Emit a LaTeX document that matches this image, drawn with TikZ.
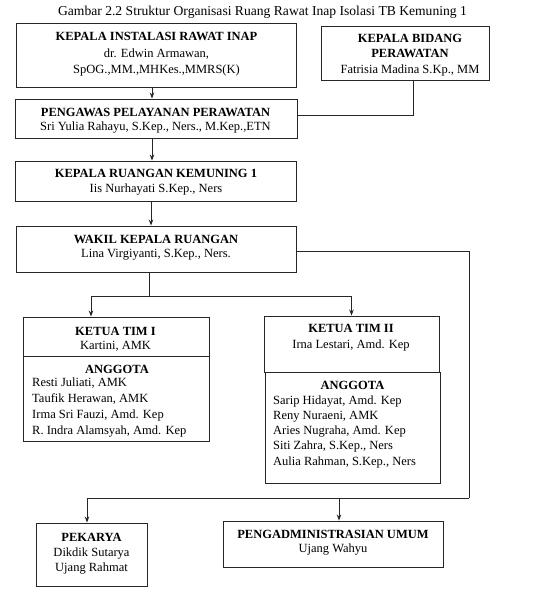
\documentclass[tikz,border=0pt]{standalone}
\usepackage{fontspec}
\setmainfont{Liberation Serif}
\usetikzlibrary{arrows.meta}
\tikzset{
  box/.style={draw=black!85, line width=0.9pt, inner sep=0pt},
  conn/.style={draw=black!85, line width=0.9pt},
  arr/.style={conn, -{Stealth[length=6pt,width=4.5pt]}},
  txt/.style={inner sep=0pt, align=center, anchor=base, font=\fontsize{12.5}{15}\selectfont},
  lst/.style={inner sep=0pt, align=left, anchor=base west},
}
\begin{document}
\begin{tikzpicture}[x=1pt,y=-1pt]
\useasboundingbox[fill=white] (0,0) rectangle (550,595);
% title
\node[txt, font=\fontsize{13.6}{16}\selectfont] (title) at (262.5,15) {Gambar 2.2 Struktur Organisasi Ruang Rawat Inap Isolasi TB Kemuning 1};
% boxes
\node[box, minimum width=280, minimum height=64] (b1) at (156,55) {};
\node[box, minimum width=168, minimum height=54] (bid) at (405,53) {};
\node[box, minimum width=282, minimum height=39] (b2) at (156,118.5) {};
\node[box, minimum width=281, minimum height=40] (b3) at (155.5,181) {};
\node[box, minimum width=280, minimum height=46] (b4) at (156,249) {};
\node[box, minimum width=186, minimum height=39] (k1) at (116,336.5) {};
\node[box, minimum width=186, minimum height=85] (a1) at (116,398.5) {};
\node[box, minimum width=175, minimum height=56] (k2) at (351.5,344) {};
\node[box, minimum width=175, minimum height=111] (a2) at (352.5,427.5) {};
\node[box, minimum width=111, minimum height=63] (pek) at (91.5,554.5) {};
\node[box, minimum width=220, minimum height=46] (peng) at (333,544) {};
% texts (anchor = baseline of last line)
\node[txt] (t1) at (156.5,73) {\textbf{KEPALA INSTALASI RAWAT INAP}\\[2pt] dr. Edwin Armawan,\\[1pt] SpOG.,MM.,MHKes.,MMRS(K)};
\node[txt] (tbid) at (410,73) {\textbf{KEPALA BIDANG}\\ \textbf{PERAWATAN}\\[1pt] Fatrisia Madina S.Kp., MM};
\node[txt] (t2) at (155.5,130) {\textbf{PENGAWAS PELAYANAN PERAWATAN}\\[-1pt] Sri Yulia Rahayu, S.Kep., Ners., M.Kep.,ETN};
\node[txt] (t3) at (156,192) {\textbf{KEPALA RUANGAN KEMUNING 1}\\ Iis Nurhayati S.Kep., Ners};
\node[txt] (t4) at (156,257) {\textbf{WAKIL KEPALA RUANGAN}\\[-1pt] Lina Virgiyanti, S.Kep., Ners.};
\node[txt] (tk1) at (115.5,349) {\textbf{KETUA TIM I}\\[-1pt] Kartini, AMK};
\node[txt] (ta1h) at (117,373) {\textbf{ANGGOTA}};
\node[lst, font=\fontsize{12.5}{15.67}\selectfont] (ta1) at (32,434) {Resti Juliati, AMK\\ Taufik Herawan, AMK\\ Irma Sri Fauzi, Amd. Kep\\ R. Indra Alamsyah, Amd. Kep};
\node[txt] (tk2) at (351,348) {\textbf{KETUA TIM II}\\[1pt] Irna Lestari, Amd. Kep};
\node[txt] (ta2h) at (352.5,389) {\textbf{ANGGOTA}};
\node[lst, font=\fontsize{12.5}{15.25}\selectfont] (ta2) at (273,465) {Sarip Hidayat, Amd. Kep\\ Reny Nuraeni, AMK\\ Aries Nugraha, Amd. Kep\\ Siti Zahra, S.Kep., Ners\\ Aulia Rahman, S.Kep., Ners};
\node[txt] (tpek) at (91.5,571) {\textbf{PEKARYA}\\ Dikdik Sutarya\\ Ujang Rahmat};
\node[txt] (tpeng) at (333,552) {\textbf{PENGADMINISTRASIAN UMUM}\\[-1pt] Ujang Wahyu};
% junction coordinates
\coordinate (x152) at (152,0);
\coordinate (x151) at (151,0);
\coordinate (j1) at (149,296);
\coordinate (j2) at (469,498);
% connectors
\draw[arr] (b1.south -| x152) -- (b2.north -| x152);
\draw[conn] ([xshift=8pt]bid.south) |- ([yshift=3.5pt]b2.east);
\draw[arr] (b2.south -| x152) -- (b3.north -| x152);
\draw[arr] (b3.south -| x151) -- (b4.north -| x151);
\draw[conn] (b4.south -| j1) -- (j1);
\draw[arr] (j1) -| ([xshift=-25pt]k1.north);
\draw[arr] (j1) -| (k2.north);
\draw[conn] ([yshift=-2pt]b4.east) -| (j2);
\draw[arr] (j2) -| ([xshift=-4.5pt]pek.north);
\draw[arr] ([xshift=6pt]peng.north |- j2) -- ([xshift=6pt]peng.north);
\end{tikzpicture}
\end{document}
